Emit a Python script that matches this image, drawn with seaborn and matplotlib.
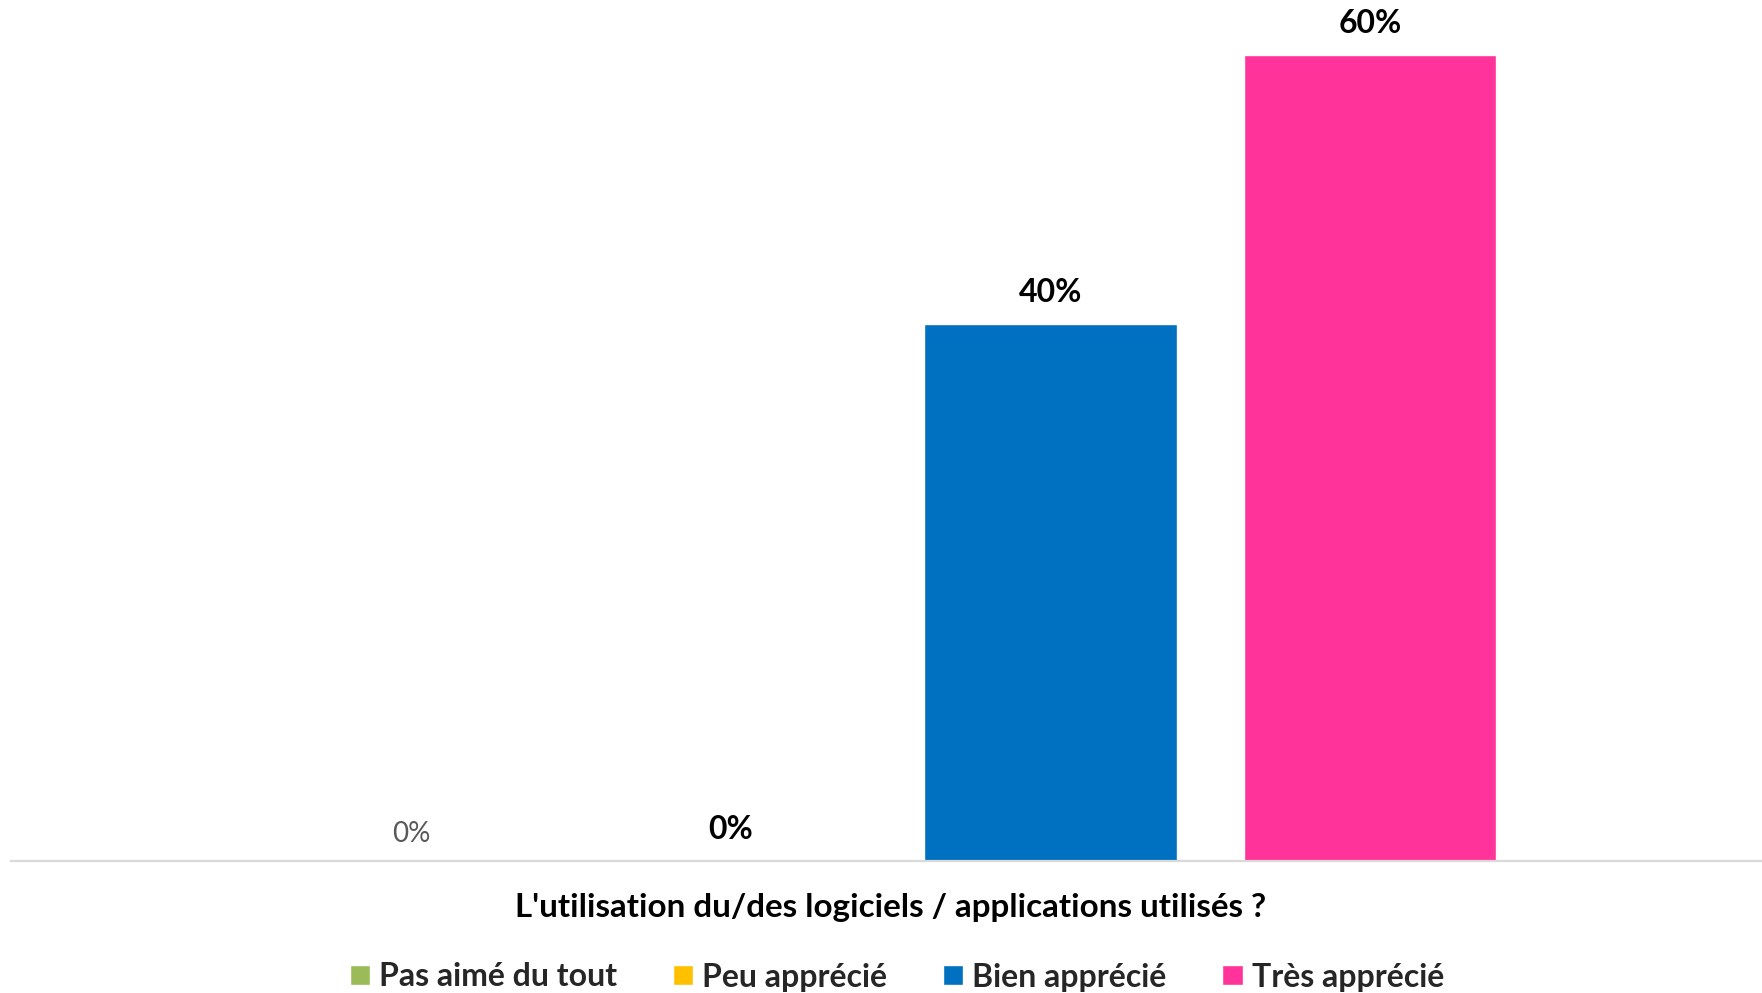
import matplotlib
matplotlib.use("Agg")
import matplotlib.pyplot as plt
import pandas as pd
import seaborn as sns

categories = ["Pas aimé du tout", "Peu apprécié", "Bien apprécié", "Très apprécié"]
values = [0, 0, 40, 60]
colors = ["#9BBB59", "#FFC000", "#0070C0", "#FF3399"]
question = "L'utilisation du/des logiciels / applications utilisés ?"

df = pd.DataFrame({"Réponse": categories, "Pourcentage": values})

sns.set_style("white")
plt.rcParams["font.family"] = ["Lato", "DejaVu Sans"]

W, H = 1762, 993
fig = plt.figure(figsize=(W / 100, H / 100), dpi=100)
ax = fig.add_axes([11 / W, 1 - 861 / H, 1 - 11 / W, 861 / H])

sns.barplot(
    data=df, x="Réponse", y="Pourcentage", hue="Réponse",
    palette=colors, width=0.79, dodge=False, saturation=1,
    legend=True, ax=ax,
)

ax.set_xlim(-1.251, 4.226)
ax.set_ylim(0, 64.1)
ax.set_xticks([])
ax.set_yticks([])
ax.set_xlabel("")
ax.set_ylabel("")
for side in ["top", "left", "right"]:
    ax.spines[side].set_visible(False)
ax.spines["bottom"].set_color("#D9D9D9")
ax.spines["bottom"].set_linewidth(1.6)

# étiquettes de données (la première est en gris, non grasse, comme l'original)
for i, v in enumerate(values):
    if i == 0:
        ax.annotate(f"{v:.0f}%", xy=(i, v), xytext=(0, 13.7), textcoords="offset points",
                    ha="center", va="baseline", fontsize=20, color="#595959")
    else:
        ax.annotate(f"{v:.0f}%", xy=(i, v), xytext=(0, 15.8), textcoords="offset points",
                    ha="center", va="baseline", fontsize=23, fontweight="bold", color="black")

fig.text(891 / W, 1 - 917 / H, question, ha="center", va="baseline",
         fontsize=23.9, fontweight="bold", color="black")

sns.move_legend(
    ax, "center", bbox_to_anchor=(897 / W, 1 - 977 / H), bbox_transform=fig.transFigure,
    ncol=4, frameon=False, title=None, prop={"size": 23, "weight": "bold"},
    handlelength=0.63, handleheight=0.6, handletextpad=0.28, columnspacing=1.75,
)

fig.savefig("out.png", dpi=100)
plt.close(fig)
